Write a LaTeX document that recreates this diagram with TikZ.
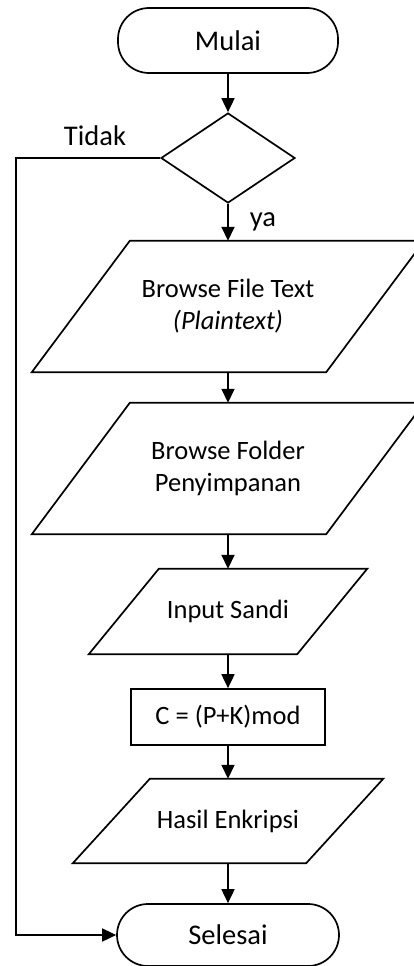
\documentclass[tikz,border=0pt]{standalone}
\usepackage{fontspec}
\setmainfont{Carlito}
\usetikzlibrary{shapes.geometric,arrows.meta}
\tikzset{
  base/.style={line width=1.7pt, draw=black},
  arr/.style={line width=1.7pt, -{Triangle[length=14pt,width=13pt]}},
  term/.style={base, rounded corners=31pt, inner sep=0pt, font=\fontsize{28.5}{34}\selectfont},
  box/.style={draw=none, inner sep=0pt, align=center, font=\fontsize{26.5}{32}\selectfont},
  lbl/.style={inner sep=0pt, font=\fontsize{28.5}{34}\selectfont},
}
\newcommand{\myparallelogram}[2]{%
  \draw[base] ([xshift=#2]#1.north west) -- (#1.north east) -- ([xshift=-#2]#1.south east) -- (#1.south west) -- cycle;}
\begin{document}
\begin{tikzpicture}[x=1pt,y=-1pt]
\useasboundingbox (0,0) rectangle (414,966);
\clip (0,0) rectangle (414,966);
% nodes
\node[term, minimum width=220pt, minimum height=65pt] (mulai) at (228,40.5) {Mulai};
\node[base, diamond, inner sep=0pt, minimum width=134pt, minimum height=90pt] (dec) at (228,158) {};
\node[box, minimum width=392pt, minimum height=131pt] (p1) at (228,306.5) {Browse File Text\\\textit{(Plaintext)}};
\myparallelogram{p1}{98pt}
\node[box, minimum width=392pt, minimum height=131pt] (p2) at (228,468.5) {Browse Folder\\Penyimpanan};
\myparallelogram{p2}{98pt}
\node[box, minimum width=278pt, minimum height=85pt] (p3) at (228,611.5) {Input Sandi};
\myparallelogram{p3}{70pt}
\node[box, base, draw=black, minimum width=194pt, minimum height=56pt] (proc) at (228,717) {C = (P+K)mod};
\node[box, minimum width=310pt, minimum height=84pt] (p4) at (228,821) {Hasil Enkripsi};
\myparallelogram{p4}{77pt}
\node[term, minimum width=222pt, minimum height=62pt] (sel) at (228,935) {Selesai};
% labels
\node[lbl] (tidak) at (95,136) {Tidak};
\node[lbl] (ya) at (263,222) {ya};
% connectors
\draw[arr] (mulai) -- (dec);
\draw[arr] (dec) -- (p1);
\draw[arr] (p1) -- (p2);
\draw[arr] (p2) -- (p3);
\draw[arr] (p3) -- (proc);
\draw[arr] (proc) -- (p4);
\draw[arr] (p4) -- (sel);
\coordinate (corner) at (16,158);
\draw[arr] (dec.west) -- (corner) |- (sel.west);
\end{tikzpicture}
\end{document}
